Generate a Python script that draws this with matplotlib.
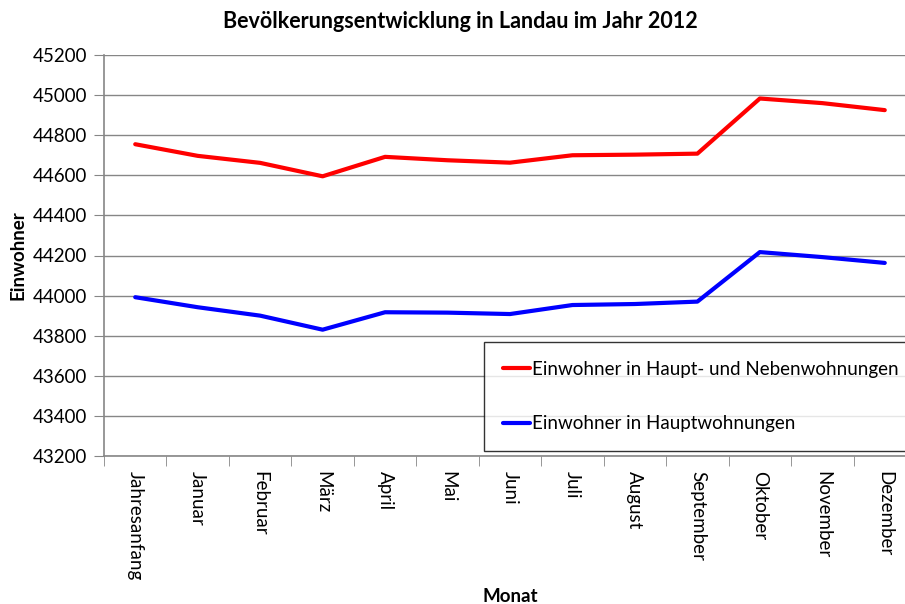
import matplotlib
matplotlib.use("Agg")
import matplotlib.pyplot as plt
from matplotlib.ticker import FixedLocator, NullFormatter

plt.rcParams['font.family'] = ['Lato', 'DejaVu Sans']

monate = ["Jahresanfang", "Januar", "Februar", "März", "April", "Mai", "Juni",
          "Juli", "August", "September", "Oktober", "November", "Dezember"]
haupt_neben = [44755, 44697, 44662, 44595, 44692, 44675, 44663,
               44700, 44703, 44708, 44983, 44960, 44925]
haupt = [43992, 43942, 43900, 43830, 43917, 43915, 43908,
         43953, 43958, 43970, 44217, 44192, 44163]
y_ticks = list(range(43200, 45201, 200))

GRAU = '#868686'
FS = 13.5

fig = plt.figure(figsize=(9.05, 6.04), dpi=100)
ax = fig.add_axes([104 / 905, 1 - 456 / 604, (916 - 104) / 905, (456 - 55) / 604])

x = range(len(monate))
ax.plot(x, haupt_neben, color='#ff0000', lw=3, solid_capstyle='round',
        label="Einwohner in Haupt- und Nebenwohnungen")
ax.plot(x, haupt, color='#0000ff', lw=3, solid_capstyle='round',
        label="Einwohner in Hauptwohnungen")

ax.set_xlim(-0.5, len(monate) - 0.5)
ax.set_ylim(43200, 45200)
ax.set_yticks(y_ticks)
ax.yaxis.grid(True, color=GRAU, lw=1)
ax.set_axisbelow(True)

# Kategorien: Beschriftung in der Mitte, Striche an den Grenzen
ax.set_xticks(list(x))
ax.set_xticklabels(monate, rotation=-90, fontsize=FS)
ax.xaxis.set_minor_locator(FixedLocator([i - 0.5 for i in range(len(monate) + 1)]))
ax.xaxis.set_minor_formatter(NullFormatter())
ax.tick_params(axis='x', which='major', length=0, pad=11)
ax.tick_params(axis='x', which='minor', length=7, color=GRAU)
ax.tick_params(axis='y', length=7, color=GRAU, labelsize=FS, pad=5)

for s in ['top', 'right']:
    ax.spines[s].set_visible(False)
for s in ['left', 'bottom']:
    ax.spines[s].set_color(GRAU)
    ax.spines[s].set_linewidth(1.2)

# Achsentitel frei platziert (wie im Original)
fig.text(510 / 905, 1 - 596 / 604, "Monat", ha='center', va='center',
         fontsize=FS, fontweight='bold')
fig.text(18 / 905, 1 - 255 / 604, "Einwohner", ha='center', va='center',
         rotation=90, fontsize=FS, fontweight='bold')
fig.text(460 / 905, 1 - 21 / 604, "Bevölkerungsentwicklung in Landau im Jahr 2012",
         ha='center', va='center', fontsize=15.5, fontweight='bold')

leg = ax.legend(loc='upper left', bbox_to_anchor=(484 / 905, 1 - 342 / 604),
                bbox_transform=fig.transFigure, fontsize=FS, frameon=True,
                fancybox=False, edgecolor='black', borderaxespad=0,
                handlelength=1.45, handletextpad=0.1, labelspacing=2.0,
                borderpad=1.0)
leg.get_frame().set_linewidth(1.0)

fig.savefig("out.png", dpi=100)
